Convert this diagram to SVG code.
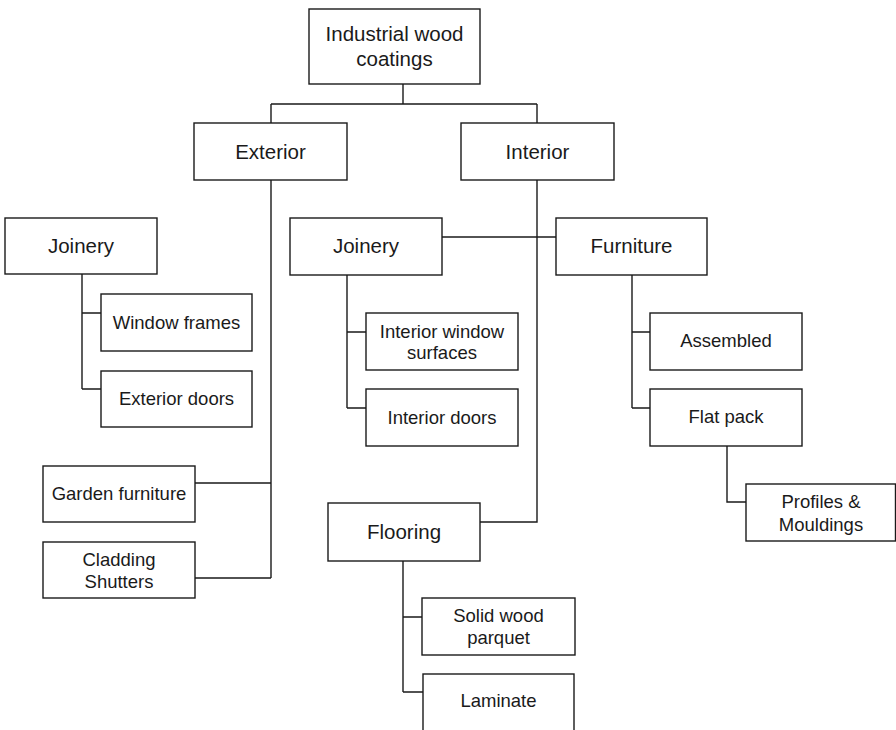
<svg xmlns="http://www.w3.org/2000/svg" width="896" height="730" viewBox="0 0 896 730">
  <style>
    .box { fill: #ffffff; stroke: #1a1a1a; stroke-width: 1.4; }
    .link { fill: none; stroke: #1a1a1a; stroke-width: 1.4; }
    text { font-family: "Liberation Sans", Arial, sans-serif; fill: #1a1a1a; text-anchor: middle; }
    .lg { font-size: 20.5px; }
    .sm { font-size: 18.5px; }
  </style>
  <rect width="896" height="730" fill="#ffffff"/>

  <!-- connectors -->
  <g id="connectors" class="link">
    <path d="M403 84 V104 M271 104 H537 M271 104 V123 M537 104 V123"/>
    <path d="M271 180 V578 M271 483 H195 M271 578 H195"/>
    <path d="M82 274 V389 M82 313 H101 M82 389 H101"/>
    <path d="M537 180 V522 H480"/>
    <path d="M442 237 H556"/>
    <path d="M347 275 V408 M347 332 H366 M347 408 H366"/>
    <path d="M632 275 V408 M632 332 H650 M632 408 H650"/>
    <path d="M727 446 V502 H746"/>
    <path d="M403 561 V692 M403 617 H422 M403 692 H423"/>
  </g>

  <g id="root">
    <rect class="box" x="309" y="9" width="171" height="75"/>
    <text class="lg" x="394.5" y="41">Industrial wood</text>
    <text class="lg" x="394.5" y="66">coatings</text>
  </g>
  <g id="exterior">
    <rect class="box" x="194" y="123" width="153" height="57"/>
    <text class="lg" x="270.5" y="158.5">Exterior</text>
  </g>
  <g id="interior">
    <rect class="box" x="461" y="123" width="153" height="57"/>
    <text class="lg" x="537.5" y="158.5">Interior</text>
  </g>
  <g id="exterior-joinery">
    <rect class="box" x="5" y="218" width="152" height="56"/>
    <text class="lg" x="81" y="253">Joinery</text>
  </g>
  <g id="window-frames">
    <rect class="box" x="101" y="294" width="151" height="57"/>
    <text class="sm" x="176.5" y="328.5">Window frames</text>
  </g>
  <g id="exterior-doors">
    <rect class="box" x="101" y="371" width="151" height="56"/>
    <text class="sm" x="176.5" y="405">Exterior doors</text>
  </g>
  <g id="garden-furniture">
    <rect class="box" x="43" y="466" width="152" height="56"/>
    <text class="sm" x="119" y="500">Garden furniture</text>
  </g>
  <g id="cladding-shutters">
    <rect class="box" x="43" y="542" width="152" height="56"/>
    <text class="sm" x="119" y="566">Cladding</text>
    <text class="sm" x="119" y="588">Shutters</text>
  </g>
  <g id="interior-joinery">
    <rect class="box" x="290" y="218" width="152" height="57"/>
    <text class="lg" x="366" y="253">Joinery</text>
  </g>
  <g id="interior-window-surfaces">
    <rect class="box" x="366" y="313" width="152" height="57"/>
    <text class="sm" x="442" y="338">Interior window</text>
    <text class="sm" x="442" y="359">surfaces</text>
  </g>
  <g id="interior-doors">
    <rect class="box" x="366" y="389" width="152" height="57"/>
    <text class="sm" x="442" y="424">Interior doors</text>
  </g>
  <g id="furniture">
    <rect class="box" x="556" y="218" width="151" height="57"/>
    <text class="lg" x="631.5" y="253">Furniture</text>
  </g>
  <g id="assembled">
    <rect class="box" x="650" y="313" width="152" height="57"/>
    <text class="sm" x="726" y="347">Assembled</text>
  </g>
  <g id="flat-pack">
    <rect class="box" x="650" y="389" width="152" height="57"/>
    <text class="sm" x="726" y="423">Flat pack</text>
  </g>
  <g id="profiles-mouldings">
    <rect class="box" x="746" y="484" width="149.5" height="57"/>
    <text class="sm" x="821" y="508">Profiles &amp;</text>
    <text class="sm" x="821" y="531">Mouldings</text>
  </g>
  <g id="flooring">
    <rect class="box" x="328" y="503" width="152" height="58"/>
    <text class="lg" x="404" y="539">Flooring</text>
  </g>
  <g id="solid-wood-parquet">
    <rect class="box" x="422" y="598" width="153" height="57"/>
    <text class="sm" x="498.5" y="622">Solid wood</text>
    <text class="sm" x="498.5" y="644">parquet</text>
  </g>
  <g id="laminate">
    <rect class="box" x="423" y="674" width="151" height="60"/>
    <text class="sm" x="498.5" y="707">Laminate</text>
  </g>
</svg>
